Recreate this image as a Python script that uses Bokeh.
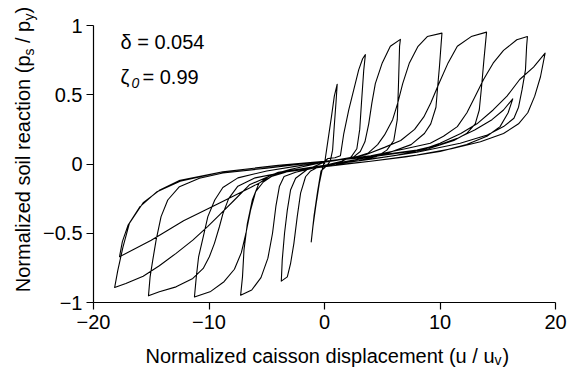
import math
from bokeh.plotting import figure
from bokeh.models import Range1d, FixedTicker, Label, LinearAxis
from bokeh.embed import file_html
from bokeh.resources import INLINE

# ---------------- data ----------------
x_ticks = [-20, -10, 0, 10, 20]
x_tick_labels = ["\u221220", "\u221210", "0", "10", "20"]
y_ticks = [-1, -0.5, 0, 0.5, 1]
y_tick_labels = ["\u22121", "\u22120.5", "0", "0.5", "1"]

# half-cycles of the normalized displacement u/uy and soil reaction ps/py
u_hc01 = [0, 0.3, 0.6, 0.85, 1.1]
p_hc01 = [0, 0.17, 0.34, 0.49, 0.576]
u_hc02 = [1.1, 1.0, 0.85, 0.7, 0.5, 0.1, -0.3, -0.6, -0.9, -1.15]
p_hc02 = [0.576, 0.45, 0.28, 0.1, 0.02, -0.02, -0.05, -0.2, -0.37, -0.562]
u_hc03 = [-1.15, -1.0, -0.75, -0.45, -0.2, 0.0, 0.3, 0.9, 1.38, 1.67, 2.1, 2.53, 2.96, 3.3, 3.54]
p_hc03 = [-0.562, -0.45, -0.3, -0.14, -0.04, 0.02, 0.04, 0.045, 0.06, 0.22, 0.39, 0.535, 0.68, 0.76, 0.79]
u_hc04 = [3.54, 3.4, 3.2, 3.05, 2.8, 2.3, 1.5, 0.5, -0.5, -1.2, -1.64, -2.07, -2.36, -2.65, -2.94, -3.22, -3.74]
p_hc04 = [0.79, 0.68, 0.44, 0.25, 0.11, 0.05, 0.02, 0.0, -0.02, -0.05, -0.092, -0.21, -0.38, -0.573, -0.72, -0.815, -0.846]
u_hc05 = [-3.74, -3.66, -3.46, -3.22, -2.94, -2.5, -1.5, 0, 1.5, 2.5, 3.1, 3.5, 3.83, 4.1, 4.4, 5.0, 5.7, 6.57]
p_hc05 = [-0.846, -0.694, -0.5, -0.333, -0.188, -0.103, -0.04, 0.015, 0.035, 0.05, 0.09, 0.16, 0.29, 0.44, 0.58, 0.73, 0.85, 0.90]
u_hc06 = [6.57, 6.5, 6.4, 6.3, 6.0, 5.4, 4.55, 3, 1, -1, -2.5, -3.5, -3.9, -4.2, -4.5, -4.9, -5.5, -6.3, -7.26]
p_hc06 = [0.90, 0.85, 0.56, 0.32, 0.17, 0.10, 0.055, 0.025, 0.0, -0.03, -0.06, -0.09, -0.16, -0.3, -0.5, -0.68, -0.82, -0.91, -0.947]
u_hc07 = [-7.26, -7.1, -6.97, -6.68, -6.25, -5.68, -4.67, -3, 0, 2.5, 3.8, 4.6, 5.2, 5.9, 6.34, 6.77, 7.35, 8.1, 8.9, 10.17]
p_hc07 = [-0.947, -0.815, -0.62, -0.43, -0.26, -0.14, -0.08, -0.04, 0.015, 0.045, 0.08, 0.14, 0.21, 0.32, 0.44, 0.58, 0.73, 0.85, 0.92, 0.945]
u_hc08 = [10.17, 10.1, 9.95, 9.8, 9.65, 9.2, 8.65, 7.5, 5.5, 3, 0, -3, -4.6, -5.3, -5.96, -6.4, -6.8, -7.2, -7.8, -8.7, -9.85, -11.26]
p_hc08 = [0.945, 0.87, 0.7, 0.56, 0.41, 0.29, 0.22, 0.14, 0.08, 0.035, -0.01, -0.05, -0.09, -0.13, -0.2, -0.333, -0.5, -0.64, -0.76, -0.85, -0.92, -0.96]
u_hc09 = [-11.26, -11.1, -10.9, -10.5, -10.1, -9.5, -8.8, -7.5, -5, -2, 1, 3.5, 5.2, 6.6, 7.8, 8.6, 9.2, 9.9, 10.7, 11.5, 12.7, 14.03]
p_hc09 = [-0.96, -0.815, -0.67, -0.526, -0.38, -0.26, -0.17, -0.1, -0.05, -0.01, 0.025, 0.065, 0.12, 0.17, 0.25, 0.34, 0.44, 0.58, 0.73, 0.85, 0.92, 0.952]
u_hc10 = [14.03, 13.8, 13.6, 13.4, 13.05, 12.3, 11.2, 9, 6, 3, 0, -3, -6, -7.5, -8.3, -8.8, -9.1, -9.53, -9.97, -10.5, -11.4, -12.85, -14.3, -15.24]
p_hc10 = [0.952, 0.75, 0.56, 0.39, 0.29, 0.22, 0.17, 0.11, 0.06, 0.025, -0.015, -0.05, -0.1, -0.16, -0.25, -0.36, -0.453, -0.573, -0.67, -0.754, -0.826, -0.887, -0.923, -0.952]
u_hc11 = [-15.24, -15.1, -14.87, -14.58, -14.15, -13.57, -12.56, -10.83, -8.8, -5, 0, 4, 7, 9.16, 10.3, 11.5, 12.33, 13.05, 13.77, 14.6, 15.5, 16.65, 17.57]
p_hc11 = [-0.952, -0.815, -0.694, -0.55, -0.38, -0.26, -0.164, -0.103, -0.065, -0.03, 0.02, 0.06, 0.11, 0.15, 0.2, 0.27, 0.37, 0.49, 0.61, 0.728, 0.82, 0.897, 0.92]
u_hc12 = [17.57, 17.5, 17.4, 17.1, 16.8, 16.4, 15.5, 14.1, 11.75, 8, 4, 0, -4, -6.5, -7.8, -9.0, -10.1, -11.4, -12.85, -14.3, -15.7, -17.2, -18.17]
p_hc12 = [0.92, 0.85, 0.68, 0.535, 0.41, 0.33, 0.27, 0.21, 0.15, 0.085, 0.035, -0.01, -0.06, -0.15, -0.26, -0.36, -0.45, -0.55, -0.645, -0.735, -0.81, -0.863, -0.892]
u_hc13 = [-18.17, -17.9, -17.45, -16.9, -15.7, -14.3, -12.6, -8.8, -4, 0, 4, 6.5, 8.3, 10, 11.8, 13.2, 14.6, 15.8, 16.9, 18.1, 19.1]
p_hc13 = [-0.892, -0.77, -0.6, -0.43, -0.28, -0.19, -0.12, -0.056, -0.01, 0.02, 0.05, 0.08, 0.1, 0.15, 0.22, 0.29, 0.39, 0.49, 0.61, 0.70, 0.80]
u_hc14 = [19.1, 18.7, 18.2, 17.6, 16.8, 15.5, 13.5, 11, 8, 4, 0, -4, -6.4, -9.3, -12.2, -15, -17.75]
p_hc14 = [0.80, 0.63, 0.49, 0.37, 0.29, 0.22, 0.16, 0.11, 0.065, 0.02, -0.02, -0.065, -0.17, -0.29, -0.41, -0.55, -0.67]
u_hc15 = [-17.75, -17.5, -17.0, -16.0, -14.5, -12.5, -9, -4, 0, 4, 8, 10, 11.5, 13, 14.5, 15.5, 16.3]
p_hc15 = [-0.67, -0.56, -0.44, -0.31, -0.2, -0.125, -0.06, -0.01, 0.02, 0.055, 0.1, 0.14, 0.185, 0.245, 0.32, 0.39, 0.47]
u_hc16 = [16.3, 15.9, 15.2, 14.06, 12.3, 10, 7, 4, 1]
p_hc16 = [0.47, 0.37, 0.27, 0.2, 0.14, 0.09, 0.05, 0.02, -0.005]

u_parts = [u_hc01, u_hc02, u_hc03, u_hc04, u_hc05, u_hc06, u_hc07, u_hc08,
           u_hc09, u_hc10, u_hc11, u_hc12, u_hc13, u_hc14, u_hc15, u_hc16]
p_parts = [p_hc01, p_hc02, p_hc03, p_hc04, p_hc05, p_hc06, p_hc07, p_hc08,
           p_hc09, p_hc10, p_hc11, p_hc12, p_hc13, p_hc14, p_hc15, p_hc16]
u_all, p_all = [], []
for uu, pp in zip(u_parts, p_parts):
    u_all += uu
    p_all += pp

# ---------------- layout (pixels) ----------------
FONT = "Liberation Sans"
W, H = 568, 367
AX_L, AX_R, AX_T, AX_B = 93, 555, 25, 302   # pixel box of the data area
XMIN, XMAX = x_ticks[0], x_ticks[-1]
YMIN, YMAX = y_ticks[0], y_ticks[-1]
kx = (AX_R - AX_L) / (XMAX - XMIN)
ky = (AX_B - AX_T) / (YMAX - YMIN)

x_rng = Range1d(XMIN - AX_L / kx, XMAX + (W - AX_R) / kx)
y_rng = Range1d(YMIN - (H - AX_B) / ky, YMAX + AX_T / ky)

p = figure(width=W, height=H, output_backend="svg", toolbar_location=None,
           x_range=x_rng, y_range=y_rng, x_axis_type=None, y_axis_type=None,
           min_border=0)
p.outline_line_color = None
p.background_fill_color = "white"
p.border_fill_color = "white"

xaxis = LinearAxis(fixed_location=YMIN, bounds=(XMIN, XMAX))
yaxis = LinearAxis(fixed_location=XMIN, bounds=(YMIN, YMAX))
p.add_layout(xaxis, "below")
p.add_layout(yaxis, "left")

for ax, ticks, labels in ((xaxis, x_ticks, x_tick_labels), (yaxis, y_ticks, y_tick_labels)):
    ax.ticker = FixedTicker(ticks=ticks)
    ax.major_label_overrides = {t: l for t, l in zip(ticks, labels)}
    ax.axis_line_color = "black"
    ax.axis_line_width = 1.2
    ax.major_tick_line_color = "black"
    ax.major_tick_line_width = 1.2
    ax.major_tick_out = 7
    ax.major_tick_in = 0
    ax.minor_tick_line_color = None
    ax.major_label_text_font = FONT
    ax.major_label_text_font_size = "20px"
    ax.major_label_text_color = "black"
xaxis.major_label_standoff = 5
yaxis.major_label_standoff = 4

p.line(u_all, p_all, line_color="black", line_width=1.1, line_join="round")


def dx(sx):
    return XMIN + (sx - AX_L) / kx


def dy(sy):
    return YMAX - (sy - AX_T) / ky


def lab(text, sx, sy, size=20, align="left", angle=0, style="normal"):
    fix = 0.25 * size
    if angle == 0:
        sy -= fix
    else:
        sx -= fix
    p.add_layout(Label(x=dx(sx), y=dy(sy), text=text, text_font=FONT,
                       text_font_size=f"{size}px", text_align=align,
                       text_baseline="alphabetic", angle=angle,
                       text_font_style=style, text_color="black"))


# x axis label
lab("Normalized caisson displacement (u / u", 494, 360, align="right")
lab("v", 494, 362.5, size=14)
lab(")", 502, 360)

# y axis label (rotated)
A = math.pi / 2
lab("Normalized soil reaction (p", 27.5, 55, align="right", angle=A)
lab("s", 31.5, 55, size=14, angle=A)
lab("/ p", 27.5, 42.5, angle=A)
lab("y", 31.5, 20, size=14, angle=A)
lab(")", 27.5, 13, angle=A)

# annotations
lab("\u03b4 = 0.054", 120, 46.7)
lab("\u03b6", 120, 81.7)
lab("0", 131, 86, size=14, style="italic")
lab("= 0.99", 142, 81.7)

open("out.html", "w").write(file_html(p, INLINE))
